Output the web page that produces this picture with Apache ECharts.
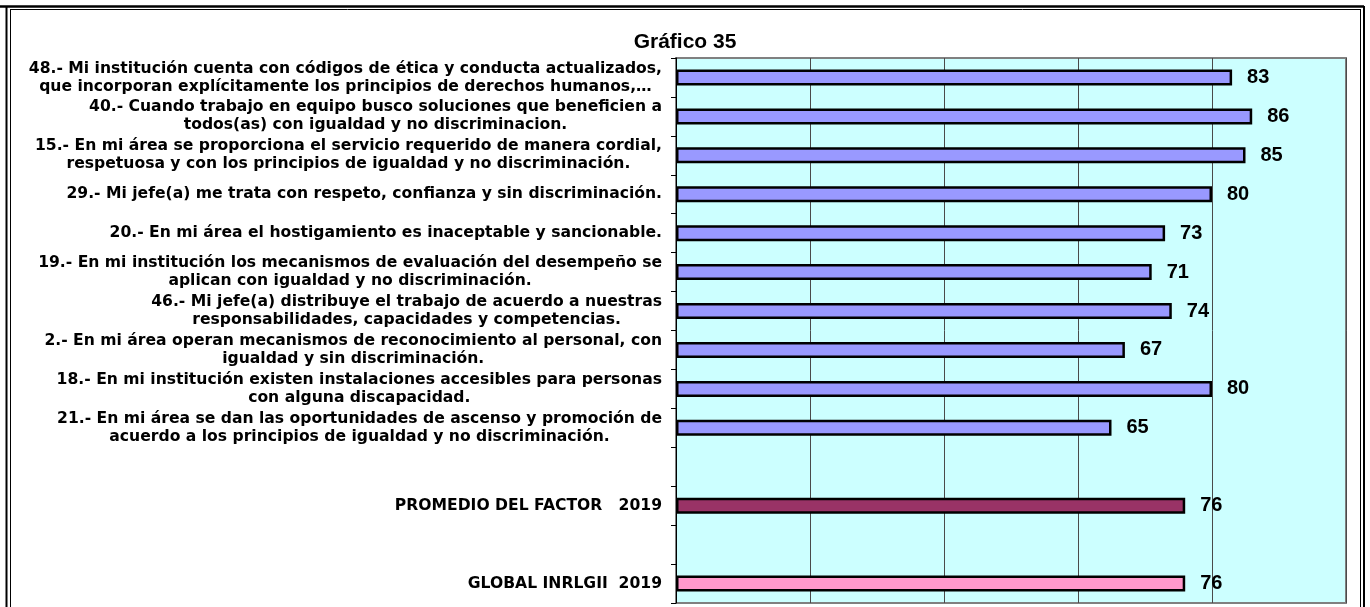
<!DOCTYPE html>
<html>
<head>
<meta charset="utf-8">
<style>
  html, body { margin: 0; padding: 0; background: #ffffff; }
  #chart { width: 1370px; height: 607px; }
</style>
<script src="https://cdn.jsdelivr.net/npm/echarts@6/dist/echarts.min.js"></script>
</head>
<body>
<div id="chart"></div>
<script>
// Reactivos del factor (las cadenas vacías dejan renglones en blanco)
const categories = [
  '48.- Mi institución cuenta con códigos de ética y conducta actualizados,\nque incorporan explícitamente los principios de derechos humanos,…',
  '40.- Cuando trabajo en equipo busco soluciones que beneficien a\ntodos(as) con igualdad y no discriminacion.',
  '15.- En mi área se proporciona el servicio requerido de manera cordial,\nrespetuosa y con los principios de igualdad y no discriminación.',
  '29.- Mi jefe(a) me trata con respeto, confianza y sin discriminación.',
  '20.- En mi área el hostigamiento es inaceptable y sancionable.',
  '19.- En mi institución los mecanismos de evaluación del desempeño se\naplican con igualdad y no discriminación.',
  '46.- Mi jefe(a) distribuye el trabajo de acuerdo a nuestras\nresponsabilidades, capacidades y competencias.',
  '2.- En mi área operan mecanismos de reconocimiento al personal, con\nigualdad y sin discriminación.',
  '18.- En mi institución existen instalaciones accesibles para personas\ncon alguna discapacidad.',
  '21.- En mi área se dan las oportunidades de ascenso y promoción de\nacuerdo a los principios de igualdad y no discriminación.',
  '',
  'PROMEDIO DEL FACTOR   2019',
  '',
  'GLOBAL INRLGII  2019'
];

const values = [83, 86, 85, 80, 73, 71, 74, 67, 80, 65, null, 76, null, 76];

const chartTitle = 'Gráfico 35';

// Colores de relleno
const COLOR_ITEM = '#9999FF';
const COLOR_PROMEDIO = '#993366';
const COLOR_GLOBAL = '#FF99CC';

function barColor(name) {
  if (name.indexOf('PROMEDIO') === 0) return COLOR_PROMEDIO;
  if (name.indexOf('GLOBAL') === 0) return COLOR_GLOBAL;
  return COLOR_ITEM;
}

const FONT = '"Liberation Sans", Arial, sans-serif';
const LABEL_FONT = '"DejaVu Sans", "Liberation Sans", sans-serif';

const chart = echarts.init(document.getElementById('chart'), null, { renderer: 'canvas' });

const seriesData = values.map((v, i) => ({
  value: v,
  itemStyle: { color: barColor(categories[i]) }
}));

chart.setOption({
  backgroundColor: '#ffffff',
  animation: false,
  title: {
    text: chartTitle,
    left: 'center',
    top: 27,
    textStyle: { fontFamily: FONT, fontSize: 21, fontWeight: 'bold', color: '#000' }
  },
  grid: {
    left: 676,
    right: 24,
    top: 58,
    bottom: 4,
    show: true,
    backgroundColor: '#CCFFFF',
    borderColor: '#808080',
    borderWidth: 2
  },
  xAxis: {
    type: 'value',
    min: 0,
    max: 100,
    interval: 20,
    axisLabel: { show: false },
    axisLine: { show: false },
    axisTick: { show: false },
    splitLine: { show: true, lineStyle: { color: '#4a4a4a', width: 1 } }
  },
  yAxis: {
    type: 'category',
    inverse: true,
    data: categories,
    axisLine: { show: true, lineStyle: { color: '#000', width: 1 } },
    axisTick: { show: true, inside: false, length: 5, lineStyle: { color: '#000', width: 1 } },
    axisLabel: {
      margin: 14,
      align: 'right',
      formatter: function (val) {
        if (!val) return '';
        return val.split('\n').map(s => '{c|' + s + '}').join('\n');
      },
      rich: {
        c: {
          fontFamily: LABEL_FONT,
          fontSize: 15.6,
          fontWeight: 'bold',
          lineHeight: 18,
          color: '#000',
          align: 'center'
        }
      }
    },
    splitLine: { show: false }
  },
  series: [{
    type: 'bar',
    data: seriesData,
    barWidth: 16,
    itemStyle: { borderColor: '#000', borderWidth: 2.5 },
    label: {
      show: true,
      position: 'right',
      distance: 15,
      fontFamily: FONT,
      fontSize: 20,
      fontWeight: 'bold',
      color: '#000'
    }
  }],
  graphic: [
    // marco doble de la página
    { type: 'line', shape: { x1: 0, y1: 6.5, x2: 1364, y2: 6.5 }, style: { stroke: '#000', lineWidth: 2.5 } },
    { type: 'line', shape: { x1: 10, y1: 9.5, x2: 1360, y2: 9.5 }, style: { stroke: '#000', lineWidth: 1 } },
    { type: 'line', shape: { x1: 6.5, y1: 6, x2: 6.5, y2: 607 }, style: { stroke: '#000', lineWidth: 2 } },
    { type: 'line', shape: { x1: 10.5, y1: 9, x2: 10.5, y2: 607 }, style: { stroke: '#000', lineWidth: 1 } },
    { type: 'line', shape: { x1: 1360.5, y1: 9, x2: 1360.5, y2: 607 }, style: { stroke: '#000', lineWidth: 1 } },
    { type: 'line', shape: { x1: 1364, y1: 6, x2: 1364, y2: 607 }, style: { stroke: '#000', lineWidth: 2 } }
  ]
});
</script>
</body>
</html>
